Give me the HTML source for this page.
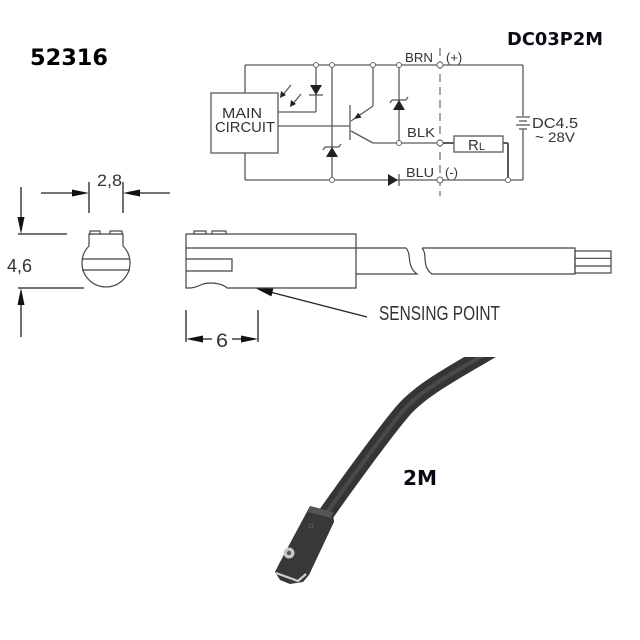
<!DOCTYPE html>
<html><head><meta charset="utf-8"><style>
html,body{margin:0;padding:0;background:#fff;}
svg{display:block;}
.ls{font-family:"Liberation Sans",Arial,sans-serif;}
.dj{font-family:"DejaVu Sans",sans-serif;font-weight:bold;}
</style></head><body>
<svg width="640" height="640" viewBox="0 0 640 640" xmlns="http://www.w3.org/2000/svg">
<rect width="640" height="640" fill="#fff"/>

<!-- Titles -->
<text class="dj" x="30" y="65" font-size="22" fill="#000" textLength="78" lengthAdjust="spacingAndGlyphs">52316</text>
<text class="dj" x="507" y="45" font-size="17.5" fill="#0a0a14" textLength="96" lengthAdjust="spacingAndGlyphs">DC03P2M</text>

<!-- Circuit -->
<g stroke="#5a5a5a" stroke-width="1.3" fill="none">
  <line x1="245" y1="65" x2="523" y2="65"/>
  <line x1="245" y1="65" x2="245" y2="93"/>
  <rect x="211" y="93" width="67" height="60"/>
  <line x1="245" y1="153" x2="245" y2="180"/>
  <line x1="245" y1="180" x2="523" y2="180"/>
  <line x1="523" y1="65" x2="523" y2="116"/>
  <line x1="523" y1="129" x2="523" y2="180"/>
  <line x1="516" y1="117" x2="530" y2="117"/>
  <line x1="519" y1="121" x2="527" y2="121"/>
  <line x1="516" y1="125" x2="530" y2="125"/>
  <line x1="519" y1="129" x2="527" y2="129"/>
  <line x1="316" y1="65" x2="316" y2="112"/>
  <line x1="316" y1="112" x2="278" y2="112"/>
  <line x1="309" y1="95" x2="323" y2="95"/>
  <line x1="332" y1="65" x2="332" y2="180"/>
  <line x1="325" y1="147" x2="339" y2="147"/>
  <line x1="325" y1="147" x2="323" y2="150"/>
  <line x1="339" y1="147" x2="341" y2="144"/>
  <line x1="278" y1="126" x2="350" y2="126"/>
  <line x1="350" y1="105" x2="350" y2="140"/>
  <line x1="351" y1="121" x2="373" y2="106"/>
  <line x1="373" y1="106" x2="373" y2="65"/>
  <line x1="351" y1="131" x2="373" y2="143"/>
  <line x1="373" y1="143" x2="440" y2="143"/>
  <line x1="399" y1="65" x2="399" y2="143"/>
  <line x1="392" y1="100" x2="406" y2="100"/>
  <line x1="392" y1="100" x2="390" y2="103"/>
  <line x1="406" y1="100" x2="408" y2="97"/>
  <line x1="399" y1="174" x2="399" y2="186"/>
  <line x1="440" y1="143" x2="454" y2="143" stroke-width="2"/>
  <rect x="454" y="136" width="49" height="16"/>
  <line x1="503" y1="143" x2="508" y2="143" stroke-width="2"/>
  <line x1="508" y1="143" x2="508" y2="180" stroke-width="2"/>
  <line x1="291" y1="85" x2="282" y2="96"/>
  <line x1="301" y1="94" x2="292" y2="105"/>
</g>
<line x1="440" y1="48" x2="440" y2="196" stroke="#777" stroke-width="1.3" stroke-dasharray="8,5"/>
<g fill="#222">
  <polygon points="310,85 322,85 316,95"/>
  <polygon points="332,147 326,157 338,157"/>
  <polygon points="399,100 393,110 405,110"/>
  <polygon points="388,174 388,186 398,180"/>
  <polygon points="354,119 361.5,117.6 358.1,112.6"/>
  <polygon points="280,98 281,91 286,95"/>
  <polygon points="290,107 291,100 296,104"/>
</g>
<g fill="#fff" stroke="#666" stroke-width="1">
  <circle cx="316" cy="65" r="2.5"/>
  <circle cx="332" cy="65" r="2.5"/>
  <circle cx="373" cy="65" r="2.5"/>
  <circle cx="399" cy="65" r="2.5"/>
  <circle cx="440" cy="65" r="3"/>
  <circle cx="399" cy="143" r="2.5"/>
  <circle cx="440" cy="143" r="3"/>
  <circle cx="332" cy="180" r="2.5"/>
  <circle cx="440" cy="180" r="3"/>
  <circle cx="508" cy="180" r="2.5"/>
</g>
<g class="ls" fill="#333">
  <text x="222" y="118" font-size="15" textLength="40" lengthAdjust="spacingAndGlyphs">MAIN</text>
  <text x="215" y="132" font-size="15" textLength="60" lengthAdjust="spacingAndGlyphs">CIRCUIT</text>
  <text x="405" y="62" font-size="13" textLength="28" lengthAdjust="spacingAndGlyphs">BRN</text>
  <text x="446" y="62" font-size="13">(+)</text>
  <text x="407" y="137" font-size="13" textLength="28" lengthAdjust="spacingAndGlyphs">BLK</text>
  <text x="406" y="177" font-size="13" textLength="28" lengthAdjust="spacingAndGlyphs">BLU</text>
  <text x="445" y="177" font-size="13">(-)</text>
  <text x="468" y="150" font-size="15">R<tspan font-size="11">L</tspan></text>
  <text x="532" y="128" font-size="15" textLength="46" lengthAdjust="spacingAndGlyphs">DC4.5</text>
  <text x="535" y="142" font-size="14" textLength="40" lengthAdjust="spacingAndGlyphs">~ 28V</text>
</g>

<!-- Dimension drawing -->
<g stroke="#222" stroke-width="1.3" fill="none">
  <line x1="41" y1="193" x2="73" y2="193"/>
  <line x1="139" y1="193" x2="170" y2="193"/>
  <line x1="89" y1="182" x2="89" y2="213"/>
  <line x1="123" y1="182" x2="123" y2="213"/>
  <line x1="21" y1="187" x2="21" y2="218"/>
  <line x1="18" y1="234" x2="67" y2="234"/>
  <line x1="18" y1="288" x2="84" y2="288"/>
  <line x1="21" y1="304" x2="21" y2="337"/>
  <line x1="186" y1="310" x2="186" y2="342"/>
  <line x1="258" y1="310" x2="258" y2="342"/>
  <line x1="202" y1="339" x2="212" y2="339"/>
  <line x1="232" y1="339" x2="242" y2="339"/>
  <line x1="367" y1="317" x2="270" y2="292"/>
</g>
<g fill="#111">
  <polygon points="89,193 72,189.5 72,196.5"/>
  <polygon points="123,193 140,189.5 140,196.5"/>
  <polygon points="21,234 17.5,217 24.5,217"/>
  <polygon points="21,288 17.5,305 24.5,305"/>
  <polygon points="186,339 203,335.5 203,342.5"/>
  <polygon points="258,339 241,335.5 241,342.5"/>
  <polygon points="255,288 271.4,296.4 273.4,288.6"/>
</g>
<g class="ls" fill="#333">
  <text x="97" y="186" font-size="17" textLength="25" lengthAdjust="spacingAndGlyphs">2,8</text>
  <text x="7" y="272" font-size="18" textLength="25" lengthAdjust="spacingAndGlyphs">4,6</text>
  <text x="216" y="347" font-size="19" textLength="12" lengthAdjust="spacingAndGlyphs">6</text>
  <text x="379" y="320" font-size="20" textLength="121" lengthAdjust="spacingAndGlyphs">SENSING POINT</text>
</g>

<!-- head profile -->
<g stroke="#444" stroke-width="1.2" fill="#fff">
  <path d="M89 234 L123 234 L123 246 A24 24 0 1 1 89 246 Z"/>
  <line x1="82" y1="259" x2="130" y2="259"/>
  <line x1="82" y1="270" x2="130" y2="270"/>
  <rect x="90" y="231" width="10" height="3"/>
  <rect x="110" y="231" width="12" height="3"/>
</g>

<!-- side body -->
<g stroke="#444" stroke-width="1.2" fill="none">
  <path d="M186 234 L356 234 L356 288 L227 288 C222 283, 210 282, 203 284 C198 286, 195 288, 190 288 L186 288 Z" fill="#fff"/>
  <line x1="186" y1="248" x2="356" y2="248"/>
  <path d="M186 259 L232 259 L232 271 L186 271"/>
  <rect x="194" y="231" width="12" height="3" fill="#fff"/>
  <rect x="212" y="231" width="14" height="3" fill="#fff"/>
  <path d="M356 248 L406 248 C412 254, 406 266, 417 274 L356 274"/>
  <path d="M422 248 L575 248 L575 274 L432 274 C421 266, 428 254, 422 248"/>
  <rect x="575" y="251" width="36" height="22"/>
  <line x1="575" y1="258.3" x2="611" y2="258.3"/>
  <line x1="575" y1="266" x2="611" y2="266"/>
</g>

<!-- Photo -->
<defs>
  <clipPath id="cl"><rect x="0" y="357" width="640" height="283"/></clipPath>
</defs>
<g clip-path="url(#cl)" fill="none" stroke-linecap="butt">
  <path d="M492 350 C455 372, 420 390, 402 412 C385 432, 350 480, 326 514" stroke="#353535" stroke-width="16"/>
  <path d="M492 350 C455 372, 420 390, 402 412 C385 432, 350 480, 326 514" stroke="#4a4a4a" stroke-width="4"/>
</g>
<g>
  <polygon points="310,506 333,512 334,522 309,575 303,582 290,584 280,580 275,572 280,562" fill="#383838"/>
  <polygon points="310,506 333,512 331,518 308,512" fill="#555"/>
  <polyline points="276,573 298,581 306,574" fill="none" stroke="#d0d0d0" stroke-width="2.2"/>
  <circle cx="289" cy="553" r="5.5" fill="#c8c8c8"/>
  <circle cx="289" cy="553" r="2.2" fill="#555"/>
  <circle cx="311" cy="526" r="2" fill="none" stroke="#666" stroke-width="0.8"/>
</g>
<text class="dj" x="403" y="485" font-size="20" fill="#0a0a14" textLength="34" lengthAdjust="spacingAndGlyphs">2M</text>
</svg>
</body></html>
